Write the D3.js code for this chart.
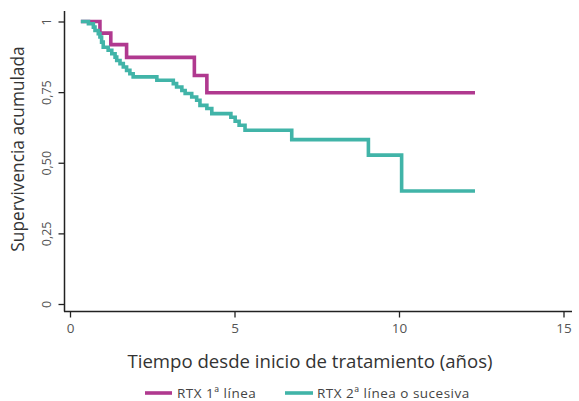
<!DOCTYPE html>
<html>
<head>
<meta charset="utf-8">
<script src="https://cdn.jsdelivr.net/npm/d3@7"></script>
<style>
  html, body { margin: 0; padding: 0; background: #fff; }
  svg { display: block; }
  text { font-family: "Open Sans", "Noto Sans", sans-serif; fill: #3a3a3a; }
</style>
</head>
<body>
<svg id="chart" width="579" height="401"></svg>
<script>
// ---- Data ----
const seriesNames = ["RTX 1ª línea", "RTX 2ª línea o sucesiva"];
const seriesColors = ["#b0398f", "#41b4a8"];

// Kaplan–Meier step data: [time (years), survival after the step]
const rtx1Times = [0.33, 0.91, 1.24, 1.72, 3.78, 4.16, 12.31];
const rtx1Surv  = [1.000, 0.959, 0.918, 0.873, 0.809, 0.748, 0.748];

const rtx2Times = [0.33, 0.56, 0.71, 0.76, 0.86, 0.91, 0.96, 1.01, 1.16, 1.27, 1.37, 1.42, 1.52, 1.62, 1.72, 1.82, 1.92,
                   2.64, 3.14, 3.24, 3.40, 3.50, 3.70, 3.85, 3.95, 4.16, 4.31, 4.89, 5.02, 5.14, 5.32,
                   6.74, 9.07, 10.08, 12.31];
const rtx2Surv  = [1.000, 0.992, 0.980, 0.968, 0.957, 0.945, 0.927, 0.909, 0.898, 0.886, 0.874, 0.862, 0.851, 0.839, 0.827, 0.815, 0.804,
                   0.792, 0.780, 0.768, 0.756, 0.745, 0.733, 0.721, 0.703, 0.692, 0.674, 0.661, 0.647, 0.633, 0.615,
                   0.582, 0.527, 0.400, 0.400];

const xTicks = [0, 5, 10, 15];
const yTicks = [0, 0.25, 0.5, 0.75, 1];
const yTickLabels = ["0", "0,25", "0,50", "0,75", "1"];
const xTitle = "Tiempo desde inicio de tratamiento (años)";
const yTitle = "Supervivencia acumulada";

// ---- Drawing ----
const svg = d3.select("#chart");
const x = d3.scaleLinear().domain([0, 15]).range([70, 563.5]);
const y = d3.scaleLinear().domain([0, 1]).range([304, 21.5]);

// Axes (offset from plot region, Stata-like)
const yAxisX = 64.5, xAxisY = 311.5;

const yAxis = d3.axisLeft(y).tickValues(yTicks).tickSize(6).tickPadding(5)
  .tickFormat((d, i) => yTickLabels[i]);
const gy = svg.append("g").attr("transform", `translate(${yAxisX},0)`).call(yAxis);
gy.select(".domain").remove();
gy.selectAll(".tick line").attr("stroke", "#222").attr("stroke-width", 1.3);
gy.selectAll(".tick text")
  .attr("transform", `rotate(-90, -18, 0)`)
  .attr("x", -18).attr("dy", "0.35em")
  .attr("text-anchor", "middle")
  .style("font-size", "12.5px").style("fill", "#555");
svg.append("line").attr("x1", yAxisX).attr("x2", yAxisX).attr("y1", 11).attr("y2", xAxisY)
  .attr("stroke", "#222").attr("stroke-width", 1.5);

const xAxis = d3.axisBottom(x).tickValues(xTicks).tickSize(6).tickPadding(6).tickFormat(d3.format("d"));
const gx = svg.append("g").attr("transform", `translate(0,${xAxisY})`).call(xAxis);
gx.select(".domain").remove();
gx.selectAll(".tick line").attr("stroke", "#222").attr("stroke-width", 1.3);
gx.selectAll(".tick text").style("font-size", "13.5px").style("fill", "#555");
svg.append("line").attr("x1", yAxisX - 0.5).attr("x2", 572).attr("y1", xAxisY).attr("y2", xAxisY)
  .attr("stroke", "#222").attr("stroke-width", 1.5);

// Titles
svg.append("text").attr("x", 310).attr("y", 368).attr("text-anchor", "middle")
  .style("font-size", "18.6px").style("fill", "#333").text(xTitle);
svg.append("text").attr("transform", "translate(24,149) rotate(-90)").attr("text-anchor", "middle")
  .style("font-size", "17.3px").style("fill", "#333").text(yTitle);

// Curves
const line = d3.line().x(d => x(d[0])).y(d => y(d[1])).curve(d3.curveStepAfter);
const series = [
  rtx1Times.map((t, i) => [t, rtx1Surv[i]]),
  rtx2Times.map((t, i) => [t, rtx2Surv[i]])
];
series.forEach((s, i) => {
  svg.append("path").datum(s).attr("d", line)
    .attr("fill", "none").attr("stroke", seriesColors[i])
    .attr("stroke-width", 3.6).attr("stroke-linejoin", "miter").attr("stroke-linecap", "butt");
});

// Legend
const legendItems = [
  { x1: 145, x2: 172, tx: 177 },
  { x1: 285, x2: 313, tx: 317 }
];
legendItems.forEach((l, i) => {
  svg.append("line").attr("x1", l.x1).attr("x2", l.x2).attr("y1", 393).attr("y2", 393)
    .attr("stroke", seriesColors[i]).attr("stroke-width", 3.6);
  svg.append("text").attr("x", l.tx).attr("y", 397.5).style("font-size", "13.5px")
    .style("letter-spacing", "0.5px").style("fill", "#444")
    .text(seriesNames[i]);
});
</script>
</body>
</html>
